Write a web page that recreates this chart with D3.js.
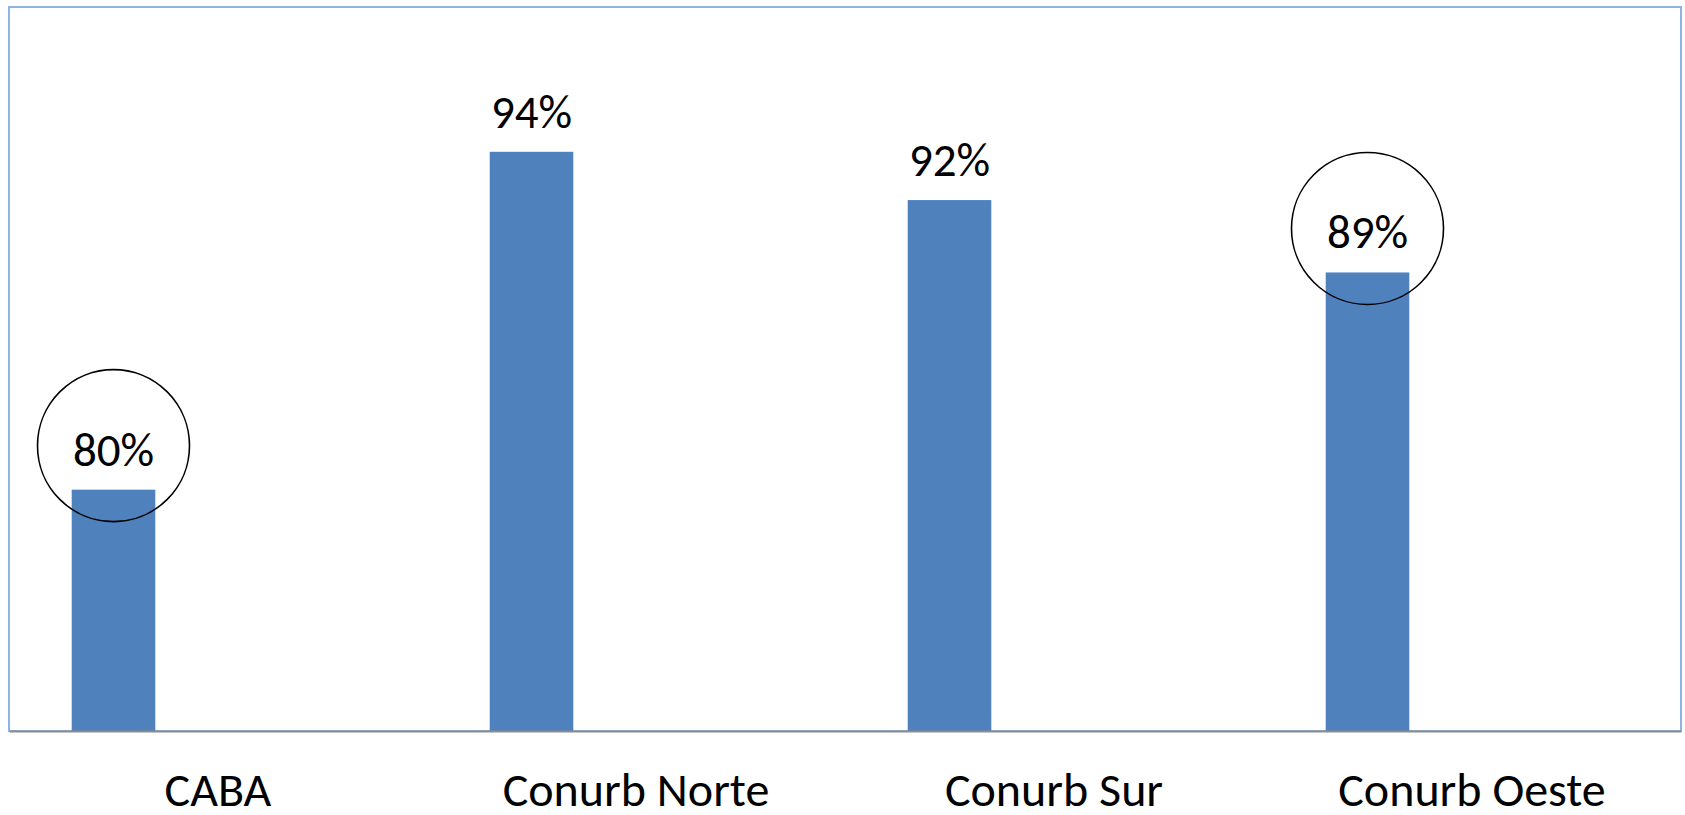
<!DOCTYPE html>
<html>
<head>
<meta charset="utf-8">
<script src="https://cdn.jsdelivr.net/npm/d3@7"></script>
<style>
  body { margin: 0; background: #fff; }
  svg { display: block; font-family: Calibri, Carlito, "Open Sans", sans-serif; }
</style>
</head>
<body>
<svg id="chart"></svg>
<script>
const categories = ['CABA', 'Conurb Norte', 'Conurb Sur', 'Conurb Oeste'];
const values = [80, 94, 92, 89];
const circled = ['CABA', 'Conurb Oeste'];
const yDomain = [70, 100];

const width = 1685, height = 815;
const margin = {top: 7, right: 4, bottom: 84, left: 9};
const innerW = width - margin.left - margin.right;
const innerH = height - margin.top - margin.bottom;

const svg = d3.select('#chart')
    .attr('width', width)
    .attr('height', height);

const g = svg.append('g')
    .attr('transform', `translate(${margin.left},${margin.top})`);

const x = d3.scaleBand()
    .domain(categories)
    .range([0, innerW]);

const y = d3.scaleLinear()
    .domain(yDomain)
    .range([innerH, 0]);

// bar sits left of the category centre, like the source chart
const barOffset = x.bandwidth() * 0.15;
const barW = x.bandwidth() * 0.2;
const barCx = c => x(c) + barOffset + barW / 2;

// plot frame
g.append('rect')
    .attr('x', 0).attr('y', 0)
    .attr('width', innerW).attr('height', innerH)
    .attr('fill', 'none')
    .attr('stroke', '#8eb4e3')
    .attr('stroke-width', 2);

const data = categories.map((c, i) => ({cat: c, value: values[i]}));

g.selectAll('rect.bar')
    .data(data)
    .join('rect')
    .attr('class', 'bar')
    .attr('x', d => x(d.cat) + barOffset)
    .attr('y', d => y(d.value))
    .attr('width', barW)
    .attr('height', d => innerH - y(d.value))
    .attr('fill', '#4f81bd');

g.selectAll('text.val')
    .data(data)
    .join('text')
    .attr('class', 'val')
    .attr('x', d => barCx(d.cat))
    .attr('y', d => y(d.value) - 24)
    .attr('text-anchor', 'middle')
    .attr('font-size', 47)
    .attr('fill', '#000')
    .text(d => d.value + '%');

g.selectAll('circle.mark')
    .data(data.filter(d => circled.includes(d.cat)))
    .join('circle')
    .attr('class', 'mark')
    .attr('cx', d => barCx(d.cat))
    .attr('cy', d => y(d.value) - 44)
    .attr('r', 76)
    .attr('fill', 'none')
    .attr('stroke', '#000')
    .attr('stroke-width', 1.6);

const xaxis = d3.axisBottom(x).tickSize(0).tickSizeOuter(0);
const xaxis_group = g.append('g')
    .attr('transform', `translate(0,${innerH})`)
    .call(xaxis);
xaxis_group.select('.domain')
    .attr('stroke', '#8c8c8c')
    .attr('stroke-width', 2);
xaxis_group.selectAll('text')
    .attr('dy', null)
    .attr('y', 75)
    .attr('font-size', 48)
    .attr('font-family', 'Calibri, Carlito, "Open Sans", sans-serif')
    .attr('fill', '#000');
</script>
</body>
</html>
